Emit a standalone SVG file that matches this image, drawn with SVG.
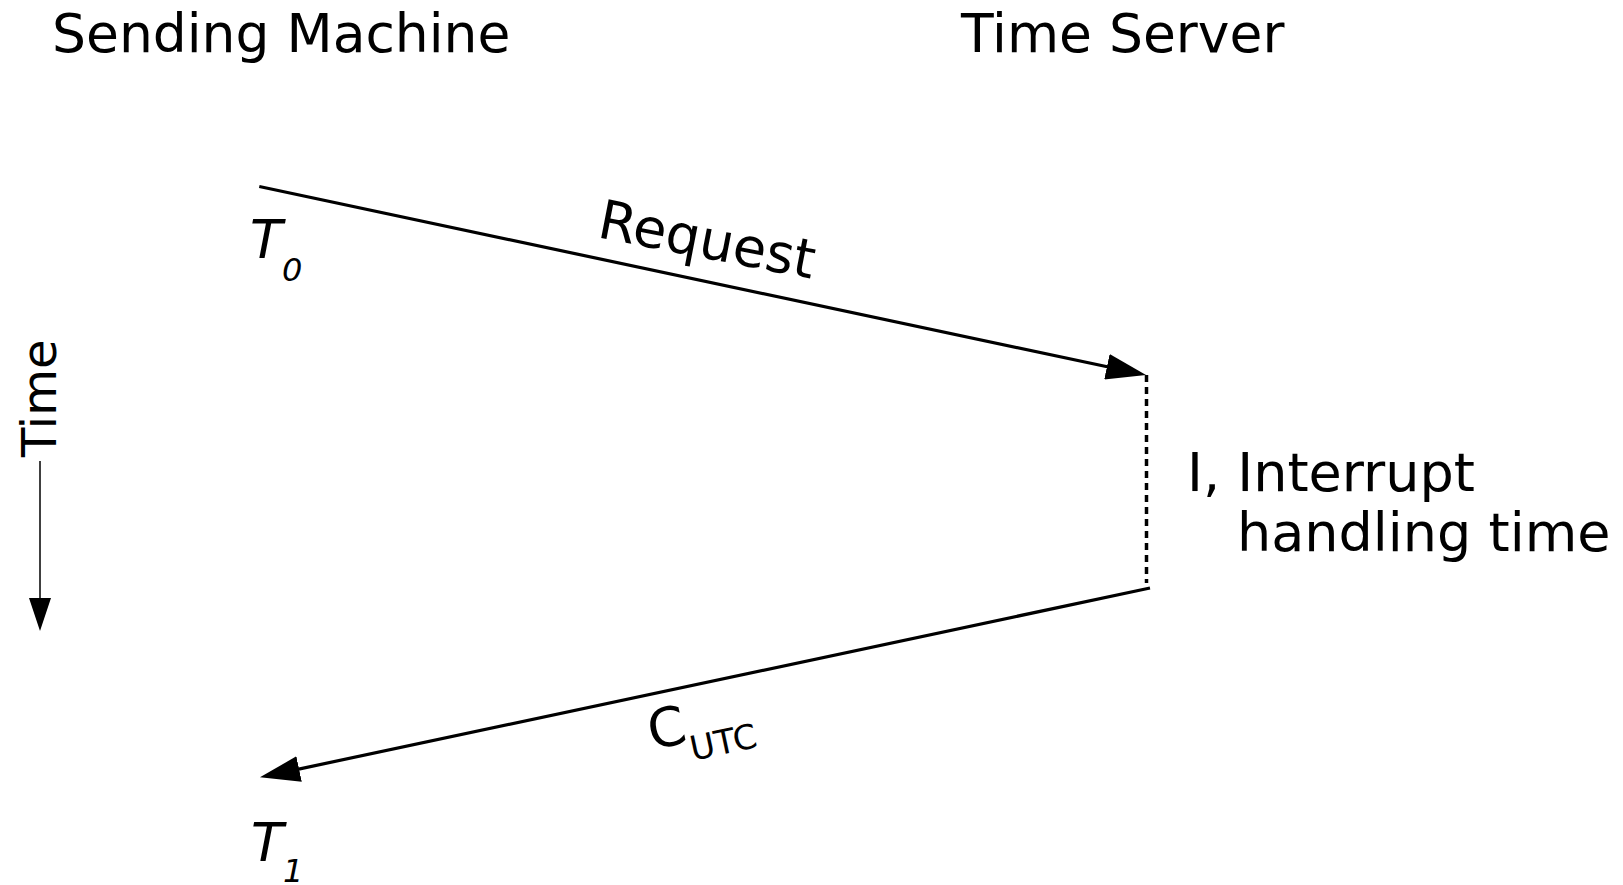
<svg xmlns="http://www.w3.org/2000/svg" width="1623" height="885" viewBox="0 0 1623 885">
  <style>
    text { font-family: "DejaVu Sans", "Liberation Sans", sans-serif; fill: #000; }
    .title { font-size: 53.5px; }
    .label { font-size: 54px; }
    .stamp { font-size: 53px; font-style: italic; }
    .sub { font-size: 32px; }
    .msg { fill: none; stroke: #000; stroke-width: 3.2; }
    .gap { fill: none; stroke: #000; stroke-width: 3.5; stroke-dasharray: 7 5; }
    .axis { fill: none; stroke: #000; stroke-width: 1.5; }
  </style>
  <defs>
    <marker id="head" viewBox="0 0 40 26" refX="10" refY="13" markerWidth="40" markerHeight="26" markerUnits="userSpaceOnUse" orient="auto">
      <path d="M0,0 L40,13 L0,26 z" fill="#000"/>
    </marker>
    <marker id="head-small" viewBox="0 0 33 22" refX="0" refY="11" markerWidth="33" markerHeight="22" markerUnits="userSpaceOnUse" orient="auto">
      <path d="M0,0 L33,11 L0,22 z" fill="#000"/>
    </marker>
  </defs>

  <!-- column headings -->
  <g id="sending-machine">
    <text class="title" x="52" y="52">Sending Machine</text>
  </g>
  <g id="time-server">
    <text class="title" x="961" y="52">Time Server</text>
  </g>

  <!-- time axis -->
  <g id="time-axis">
    <text transform="translate(56,457) rotate(-90)" style="font-size:48px">Time</text>
    <line class="axis" x1="40" y1="461" x2="40" y2="598" marker-end="url(#head-small)"/>
  </g>

  <!-- timestamps on the sending machine -->
  <g id="t0">
    <text class="stamp" x="250" y="258">T<tspan class="sub" x="282" y="281">0</tspan></text>
  </g>
  <g id="t1">
    <text class="stamp" x="251" y="861">T<tspan class="sub" x="283" y="882">1</tspan></text>
  </g>

  <!-- interrupt handling interval on the server -->
  <g id="interrupt">
    <text class="label" x="1187" y="491">I, Interrupt</text>
    <text class="label" x="1237" y="551">handling time</text>
  </g>

  <!-- message labels -->
  <g id="request-label">
    <text class="label" transform="translate(596,237) rotate(11)">Request</text>
  </g>
  <g id="cutc-label">
    <text class="label" transform="translate(652,750) rotate(-12)">C<tspan style="font-size:34px" dy="19">UTC</tspan></text>
  </g>

  <!-- connectors -->
  <g id="connectors">
    <line class="msg" x1="259.3" y1="186.5" x2="1116.7" y2="368.8" marker-end="url(#head)"/>
    <line class="gap" x1="1146.5" y1="375" x2="1146.5" y2="583"/>
    <line class="msg" x1="1150" y1="588" x2="289.3" y2="771.1" marker-end="url(#head)"/>
  </g>
</svg>
